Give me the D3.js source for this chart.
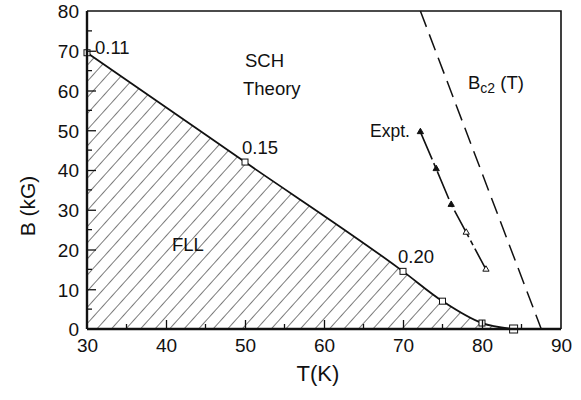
<!DOCTYPE html>
<html>
<head>
<meta charset="utf-8">
<script src="https://cdn.jsdelivr.net/npm/d3@7"></script>
<style>
  html, body { margin: 0; padding: 0; background: #fff; }
  svg { display: block; font-family: "Liberation Sans", Arial, Helvetica, sans-serif; }
</style>
</head>
<body>
<svg id="chart" width="581" height="400"></svg>
<script>
// Flux-line-lattice phase boundary, B (kG) versus T (K)
const boundaryT = [30, 50, 70, 75, 80, 84];
const boundaryB = [69.5, 42, 14.5, 7, 1.5, 0];
const boundaryLabels = ["0.11", "0.15", "0.20", "", "", ""];

const exptT = [72.2, 74.2, 76.1, 78.0, 80.5];
const exptB = [49.6, 40.3, 31.3, 24.3, 15.0];
const exptFilled = [true, true, true, false, false];

const bc2T = [72.2, 87.5];
const bc2B = [80, 0];

const xTicks = [30, 40, 50, 60, 70, 80, 90];
const yTicks = [0, 10, 20, 30, 40, 50, 60, 70, 80];

const W = 581, H = 400;
const m = { left: 87, right: 20, top: 11, bottom: 71 };
const svg = d3.select("#chart");

const x = d3.scaleLinear().domain([30, 90]).range([m.left, W - m.right]);
const y = d3.scaleLinear().domain([0, 80]).range([H - m.bottom, m.top]);

// diagonal hatch fill
const defs = svg.append("defs");
const pat = defs.append("pattern")
  .attr("id", "hatch")
  .attr("patternUnits", "userSpaceOnUse")
  .attr("width", 10.8).attr("height", 10.8)
  .attr("patternTransform", "rotate(42)");
pat.append("line")
  .attr("x1", 0).attr("y1", 0).attr("x2", 0).attr("y2", 10.8)
  .attr("stroke", "#111").attr("stroke-width", 1.1);

const boundary = boundaryT.map((t, i) => ({ t, b: boundaryB[i], label: boundaryLabels[i] }));

const area = d3.area()
  .x(d => x(d.t)).y0(y(0)).y1(d => y(d.b))
  .curve(d3.curveMonotoneX);
svg.append("path")
  .datum(boundary)
  .attr("d", area)
  .attr("fill", "url(#hatch)");

const line = d3.line()
  .x(d => x(d.t)).y(d => y(d.b))
  .curve(d3.curveMonotoneX);
svg.append("path")
  .datum(boundary)
  .attr("d", line)
  .attr("fill", "none").attr("stroke", "#111").attr("stroke-width", 1.8);

// square markers on the boundary
svg.selectAll("rect.sq")
  .data(boundary)
  .join("rect")
  .attr("class", "sq")
  .attr("x", (d, i) => x(d.t) - (i === boundary.length - 1 ? 4 : 3))
  .attr("y", (d, i) => y(d.b) - (i === boundary.length - 1 ? 4 : 3))
  .attr("width", (d, i) => i === boundary.length - 1 ? 8 : 6)
  .attr("height", (d, i) => i === boundary.length - 1 ? 8 : 6)
  .attr("fill", "#fff").attr("stroke", "#111").attr("stroke-width", 1);

// Bc2(T) dashed line
const bc2 = bc2T.map((t, i) => ({ t, b: bc2B[i] }));
svg.append("path")
  .datum(bc2)
  .attr("d", d3.line().x(d => x(d.t)).y(d => y(d.b)))
  .attr("fill", "none").attr("stroke", "#111").attr("stroke-width", 1.5)
  .attr("stroke-dasharray", "17,8");

// experimental points
const expt = exptT.map((t, i) => ({ t, b: exptB[i], filled: exptFilled[i] }));
svg.append("path")
  .datum(expt)
  .attr("d", d3.line().x(d => x(d.t)).y(d => y(d.b)))
  .attr("fill", "none").attr("stroke", "#111").attr("stroke-width", 1.6)
  .attr("stroke-dasharray", "30,4,5,4");
const tri = d3.symbol().type(d3.symbolTriangle).size(17);
svg.selectAll("path.tri")
  .data(expt)
  .join("path")
  .attr("class", "tri")
  .attr("d", tri)
  .attr("transform", d => `translate(${x(d.t)},${y(d.b)})`)
  .attr("fill", d => d.filled ? "#111" : "#fff")
  .attr("stroke", "#111").attr("stroke-width", 1);

// frame (top and right)
svg.append("path")
  .attr("d", `M${x(30)},${y(80)}H${x(90)}V${y(0)}`)
  .attr("fill", "none").attr("stroke", "#111").attr("stroke-width", 1.6);

// axes with inward ticks
const xMinor = d3.range(35, 90, 10);
const yMinor = d3.range(5, 80, 10);

const gx = svg.append("g").attr("transform", `translate(0,${y(0)})`);
gx.call(d3.axisBottom(x).tickValues(xTicks).tickSize(-9).tickPadding(10).tickFormat(d3.format("d")));
gx.selectAll(".tick").filter(d => d === 30 || d === 90).select("line").remove();
gx.append("g").selectAll("line").data(xMinor).join("line")
  .attr("x1", d => x(d)).attr("x2", d => x(d)).attr("y1", 0).attr("y2", -5)
  .attr("stroke", "#111").attr("stroke-width", 1.3);

const gy = svg.append("g").attr("transform", `translate(${x(30)},0)`);
gy.call(d3.axisLeft(y).tickValues(yTicks).tickSize(-9).tickPadding(8).tickFormat(d3.format("d")));
gy.selectAll(".tick").filter(d => d === 0 || d === 80).select("line").remove();
gy.append("g").selectAll("line").data(yMinor).join("line")
  .attr("y1", d => y(d)).attr("y2", d => y(d)).attr("x1", 0).attr("x2", 5)
  .attr("stroke", "#111").attr("stroke-width", 1.3);

[gx, gy].forEach(g => {
  g.select(".domain").attr("stroke", "#111").attr("stroke-width", 2.4);
  g.selectAll(".tick line").attr("stroke", "#111").attr("stroke-width", 1.3);
  g.selectAll(".tick text").attr("fill", "#111")
    .attr("font-size", 19).attr("font-family", "Liberation Sans, Arial, sans-serif");
});
gx.select(".domain").attr("d", `M${x(30)},0H${x(90)}`);
gy.select(".domain").attr("d", `M0,${y(0)}V${y(80)}`);
gy.selectAll(".tick text").attr("dy", "0.36em");

// axis titles
svg.append("text")
  .attr("transform", `translate(35,206) rotate(-90)`)
  .attr("text-anchor", "middle")
  .attr("font-size", 21).attr("fill", "#111")
  .text("B (kG)");
svg.append("text")
  .attr("x", 318).attr("y", 381)
  .attr("text-anchor", "middle")
  .attr("font-size", 22).attr("fill", "#111")
  .text("T(K)");

// boundary annotations
const lab = svg.append("g").attr("font-size", 18.5).attr("fill", "#111");
lab.selectAll("text.v")
  .data(boundary.filter(d => d.label))
  .join("text")
  .attr("class", "v")
  .attr("x", d => x(d.t) + (d.t === 30 ? 8 : (d.t === 50 ? -3 : -5)))
  .attr("y", d => y(d.b) + (d.t === 30 ? 1 : -8.5))
  .text(d => d.label);

const txt = svg.append("g").attr("font-size", 18.5).attr("fill", "#111");
txt.append("text").attr("x", 245).attr("y", 67).text("SCH");
txt.append("text").attr("x", 243).attr("y", 95).text("Theory");
txt.append("text").attr("x", 172).attr("y", 251).text("FLL");
txt.append("text").attr("x", 370).attr("y", 137).attr("font-size", 17.5).text("Expt.");
const bc = txt.append("text").attr("x", 468).attr("y", 89);
bc.append("tspan").text("B");
bc.append("tspan").attr("font-size", 14).attr("dy", 4).text("c2");
bc.append("tspan").attr("dy", -4).text(" (T)");
</script>
</body>
</html>
